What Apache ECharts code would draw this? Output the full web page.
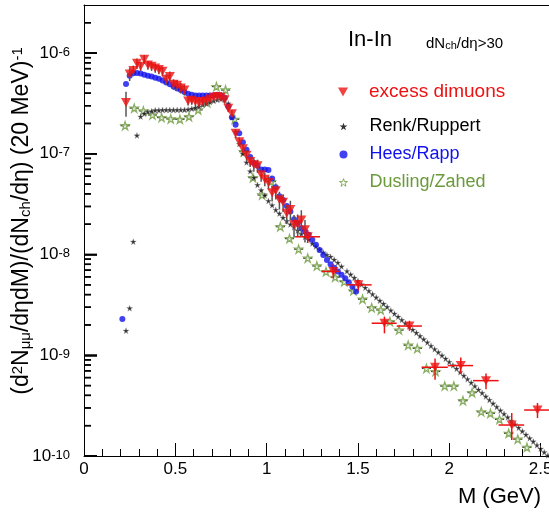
<!DOCTYPE html>
<html>
<head>
<meta charset="utf-8">
<script src="https://cdn.jsdelivr.net/npm/echarts@6/dist/echarts.min.js"></script>
<style>
html,body{margin:0;padding:0;background:#fff;}
#chart{width:549px;height:512px;}
</style>
</head>
<body>
<div id="chart"></div>
<script>
// ---------- DATA ----------
// excess dimuons, 20 MeV bins
const excessM = [0.23,0.25,0.27,0.29,0.31,0.33,0.35,0.37,0.39,0.41,0.43,0.45,0.47,0.49,0.51,0.53,0.55,0.57,0.59,0.61,0.63,0.65,0.67,0.69,0.71,0.73,0.75,0.77,0.79,0.81,0.83,0.85,0.87,0.89,0.91,0.93,0.95,0.97,0.99,1.01,1.03,1.05,1.07,1.09,1.11,1.13,1.15,1.17,1.19,1.21];
const excessY = [3.23e-7,6.2e-7,6.7e-7,7.9e-7,7.4e-7,8.7e-7,7.6e-7,7.4e-7,7.1e-7,6.85e-7,6.6e-7,5.5e-7,5.85e-7,4.9e-7,4.8e-7,4.5e-7,4.3e-7,3.35e-7,3.4e-7,3.3e-7,3.2e-7,3.3e-7,3.35e-7,3.5e-7,3.65e-7,3.7e-7,3.65e-7,3.43e-7,2.83e-7,2.5e-7,1.6e-7,1.32e-7,1.12e-7,9.7e-8,8.4e-8,7.8e-8,7.6e-8,6.2e-8,5.6e-8,5.2e-8,4.1e-8,4.3e-8,3.5e-8,3.3e-8,2.57e-8,2.8e-8,1.98e-8,2.0e-8,2.2e-8,1.76e-8];
const excessRelErr = [0.28,0.15,0.12,0.12,0.1,0.1,0.1,0.1,0.1,0.1,0.1,0.12,0.12,0.12,0.12,0.12,0.12,0.1,0.1,0.1,0.1,0.1,0.08,0.08,0.08,0.08,0.08,0.08,0.08,0.08,0.1,0.1,0.1,0.12,0.12,0.15,0.15,0.15,0.15,0.15,0.18,0.18,0.2,0.2,0.22,0.22,0.25,0.25,0.25,0.25];
// excess dimuons, wide bins
const wideM   = [1.225,1.365,1.502,1.645,1.782,1.922,2.063,2.201,2.342,2.483];
const wideMLo = [1.156,1.302,1.438,1.575,1.712,1.850,1.992,2.130,2.270,2.410];
const wideMHi = [1.292,1.402,1.575,1.712,1.850,1.992,2.130,2.270,2.410,2.550];
const wideY   = [1.5e-8,6.8e-9,5.0e-9,2.08e-9,1.95e-9,7.6e-10,7.9e-10,5.6e-10,2.03e-10,2.86e-10];
const wideYLo = [1.3e-8,5.8e-9,4.4e-9,1.65e-9,1.75e-9,5.7e-10,6.6e-10,4.6e-10,1.44e-10,2.38e-10];
const wideYHi = [1.75e-8,8.0e-9,5.6e-9,2.42e-9,2.2e-9,9.3e-10,9.5e-10,6.6e-10,2.67e-10,3.36e-10];

// Renk/Ruppert
const renkM = [0.23,0.25,0.27,0.29,0.31,0.33,0.35,0.37,0.39,0.41,0.43,0.45,0.47,0.49,0.51,0.53,0.55,0.57,0.59,0.61,0.63,0.65,0.67,0.69,0.71,0.73,0.75,0.77,0.79,0.81,0.83,0.85,0.87,0.89,0.91,0.93,0.95,0.97,0.99,1.01,1.03,1.05,1.07,1.09,1.11,1.13,1.15,1.17,1.19,1.21,1.23,1.25,1.27,1.29,1.31,1.33,1.35,1.37,1.39,1.41,
  1.44,1.46,1.48,1.50,1.52,1.54,1.56,1.58,1.60,1.62,1.64,1.66,1.68,1.70,1.72,1.74,1.76,1.78,1.80,1.82,1.84,1.86,1.88,1.90,1.92,1.94,1.96,1.98,2.00,2.02,2.04,2.06,2.08,2.10,2.12,2.14,2.16,2.18,2.20,2.22,2.24,2.26,2.28,2.30,2.32,2.34,2.36,2.38,2.40,2.42,2.44,2.46,2.48,2.50,2.52,2.54];
const renkY = [1.75e-9,2.93e-9,1.34e-8,1.52e-7,2.34e-7,2.5e-7,2.6e-7,2.65e-7,2.7e-7,2.7e-7,2.72e-7,2.72e-7,2.72e-7,2.72e-7,2.72e-7,2.73e-7,2.73e-7,2.75e-7,2.8e-7,2.87e-7,2.94e-7,3.05e-7,3.15e-7,3.25e-7,3.35e-7,3.43e-7,3.48e-7,3.43e-7,3.15e-7,2.3e-7,1.65e-7,1.25e-7,1.0e-7,8.2e-8,6.7e-8,5.8e-8,4.9e-8,4.35e-8,3.85e-8,3.4e-8,3.08e-8,2.77e-8,2.55e-8,2.32e-8,2.15e-8,1.99e-8,1.87e-8,1.73e-8,1.6e-8,1.49e-8,1.41e-8,1.29e-8,1.2e-8,1.12e-8,1.05e-8,9.9e-9,9.5e-9,8.9e-9,8.3e-9,7.6e-9,
  6.84e-9,6.34e-9,5.87e-9,5.45e-9,5.05e-9,4.68e-9,4.35e-9,4.04e-9,3.75e-9,3.48e-9,3.24e-9,3.01e-9,2.79e-9,2.59e-9,2.41e-9,2.24e-9,2.08e-9,1.93e-9,1.79e-9,1.67e-9,1.55e-9,1.44e-9,1.34e-9,1.24e-9,1.15e-9,1.07e-9,9.95e-10,9.25e-10,8.59e-10,7.94e-10,7.35e-10,6.79e-10,6.27e-10,5.79e-10,5.35e-10,4.94e-10,4.56e-10,4.22e-10,3.89e-10,3.60e-10,3.32e-10,3.07e-10,2.83e-10,2.62e-10,2.42e-10,2.23e-10,2.06e-10,1.91e-10,1.76e-10,1.63e-10,1.50e-10,1.39e-10,1.28e-10,1.18e-10,1.09e-10,1.01e-10];

// Hees/Rapp
const heesM = [0.21,0.23,0.25,0.27,0.29,0.31,0.33,0.35,0.37,0.39,0.41,0.43,0.45,0.47,0.49,0.51,0.53,0.55,0.57,0.59,0.61,0.63,0.65,0.67,0.69,0.71,0.73,0.75,0.77,0.79,0.81,0.83,0.85,0.87,0.89,0.91,0.93,0.95,0.97,0.99,1.01,1.03,1.05,1.07,1.09,1.11,1.13,1.15,1.17,1.19,1.21,1.23,1.25,1.27,1.29,1.31,1.33,1.35,1.37,1.39,1.41,1.43,1.45,1.47,1.49];
const heesY = [2.29e-9,4.94e-7,5.95e-7,6.3e-7,6.35e-7,6.25e-7,6.1e-7,5.95e-7,5.85e-7,5.7e-7,5.55e-7,5.35e-7,5.1e-7,4.9e-7,4.65e-7,4.45e-7,4.3e-7,4.1e-7,3.95e-7,3.85e-7,3.8e-7,3.78e-7,3.78e-7,3.78e-7,3.78e-7,3.8e-7,3.85e-7,3.8e-7,3.6e-7,2.94e-7,2.3e-7,1.94e-7,1.6e-7,1.3e-7,1.1e-7,9.3e-8,8.1e-8,7.6e-8,7.0e-8,7.0e-8,6.9e-8,5.7e-8,4.65e-8,3.8e-8,3.48e-8,3.03e-8,2.67e-8,2.24e-8,2.05e-8,1.82e-8,1.69e-8,1.57e-8,1.4e-8,1.25e-8,1.11e-8,9.9e-9,8.8e-9,8.0e-9,7.4e-9,6.8e-9,6.3e-9,5.8e-9,5.3e-9,4.8e-9,4.3e-9];

// Dusling/Zahed
const dusM = [0.225,0.275,0.325,0.375,0.425,0.475,0.525,0.575,0.625,0.675,0.725,0.775,0.825,0.875,0.925,0.975,1.025,1.075,1.125,1.175,1.225,1.275,1.325,1.375,1.425,1.475,1.525,1.575,1.625,1.675,1.725,1.775,1.825,1.875,1.925,1.975,2.025,2.075,2.125,2.175,2.225,2.275,2.325,2.375,2.425];
const dusY = [1.9e-7,2.84e-7,2.67e-7,2.43e-7,2.29e-7,2.22e-7,2.2e-7,2.34e-7,2.73e-7,3.22e-7,4.65e-7,4.3e-7,2.2e-7,1.05e-7,5.8e-8,3.9e-8,5.3e-8,1.89e-8,1.44e-8,1.13e-8,9.2e-9,7.7e-9,6.76e-9,5.95e-9,5.38e-9,4.37e-9,3.6e-9,2.97e-9,2.82e-9,2.16e-9,1.78e-9,1.26e-9,1.17e-9,7.4e-10,6.9e-10,4.95e-10,4.95e-10,3.54e-10,4.26e-10,2.75e-10,2.65e-10,2.31e-10,1.68e-10,1.47e-10,1.22e-10];
const dusHalfWidth = 0.025;

const xTickInterval = 0.5;
const yMin = 1e-10, yMax = 3e-6;
const xMin = 0, xMax = 2.546;
const yDecades = [-10, -9, -8, -7, -6];
const yMinorMantissas = [2, 3, 4, 5, 6, 7, 8, 9];

// ---------- STYLE ----------
const FONT = 'Liberation Sans, Arial, Helvetica, sans-serif';
const RED = '#ee1111', BLUE = '#1111ee', GREEN = '#6b9a3a', BLACK = '#000';
const TRI = 'path://M0,0L10,0L5,9Z';
const STAR = 'path://M5,0L6.2,3.6L10,3.6L6.9,5.8L8.1,9.5L5,7.2L1.9,9.5L3.1,5.8L0,3.6L3.8,3.6Z';

const zip = (a, b) => a.map((v, i) => [v, b[i]]);

const errData = [];
excessM.forEach((m, i) => {
  const y = excessY[i], e = excessRelErr[i];
  errData.push([m, y, m, m, y * (1 - e), y * (1 + e), 0]);
});
wideM.forEach((m, i) => {
  errData.push([m, wideY[i], wideMLo[i], wideMHi[i], wideYLo[i], wideYHi[i], 1]);
});

const dusBars = dusM.map((m, i) => [m, dusY[i]]);

// y ticks: [x, value, isMajor]
const yTicks = [];
yDecades.forEach(e => {
  const p = Math.pow(10, e);
  yTicks.push([xMin, p, 1]);
  yMinorMantissas.forEach(k => {
    const v = k * p;
    if (v < yMax * 0.999) yTicks.push([xMin, v, 0]);
  });
});

function lineEl(a, b, color, w) {
  return {type: 'line', shape: {x1: a[0], y1: a[1], x2: b[0], y2: b[1]}, style: {stroke: color, lineWidth: w}};
}

const textGraphics = [
  {
    type: 'text', x: 22, y: 221, rotation: Math.PI / 2,
    style: {
      text: '{n|(d}{p|2}{n|N}{u|μμ}{n|/dηdM)/(dN}{u|ch}{n|/dη) (20 MeV)}{p|-1}',
      textAlign: 'center', textVerticalAlign: 'middle', fill: '#000',
      rich: {
        n: {fontSize: 23, fontFamily: FONT, padding: [3, 0, 3, 0], lineHeight: 23, verticalAlign: 'middle'},
        p: {fontSize: 15, fontFamily: FONT, lineHeight: 15, verticalAlign: 'top'},
        u: {fontSize: 15, fontFamily: FONT, lineHeight: 15, verticalAlign: 'bottom'}
      }
    }
  },
  {
    type: 'text', x: 541, y: 497,
    style: {text: 'M (GeV)', font: '22px ' + FONT, fill: '#000', textAlign: 'right', textVerticalAlign: 'middle'}
  },
  {
    type: 'text', x: 348, y: 40,
    style: {text: 'In-In', font: '22px ' + FONT, fill: '#000', textAlign: 'left', textVerticalAlign: 'middle'}
  },
  {
    type: 'text', x: 426, y: 44,
    style: {
      text: '{n|dN}{u|ch}{n|/dη>30}', textAlign: 'left', textVerticalAlign: 'middle', fill: '#000',
      rich: {
        n: {fontSize: 15, fontFamily: FONT, padding: [2, 0, 2, 0], lineHeight: 15, verticalAlign: 'middle'},
        u: {fontSize: 11, fontFamily: FONT, lineHeight: 11, verticalAlign: 'bottom'}
      }
    }
  }
];

const chart = echarts.init(document.getElementById('chart'), null, {renderer: 'canvas'});
chart.setOption({
  animation: false,
  backgroundColor: '#fff',
  grid: {left: 84, right: 0, top: 5, bottom: 56, containLabel: false, outerBoundsMode: 'none'},
  xAxis: [{
    type: 'value', min: xMin, max: xMax, interval: xTickInterval,
    axisLine: {show: true, onZero: false, lineStyle: {color: '#000', width: 1}},
    axisTick: {show: true, inside: true, length: 13, lineStyle: {color: '#000', width: 1}},
    minorTick: {show: true, splitNumber: 5, length: 7, lineStyle: {color: '#000', width: 1}},
    splitLine: {show: false},
    axisLabel: {fontSize: 17, color: '#000', fontFamily: FONT, margin: 5, showMaxLabel: false,
      formatter: v => (Math.abs(v / xTickInterval - Math.round(v / xTickInterval)) < 1e-6 ? String(+v.toFixed(2)) : '')}
  }, {
    type: 'value', position: 'top', min: xMin, max: xMax,
    axisLine: {show: true, lineStyle: {color: '#000', width: 1}},
    axisTick: {show: false}, axisLabel: {show: false}, splitLine: {show: false}
  }],
  yAxis: {
    type: 'log', logBase: 10, min: yMin, max: yMax,
    axisLine: {show: true, onZero: false, lineStyle: {color: '#000', width: 1}},
    axisTick: {show: true, inside: true, length: 13, lineStyle: {color: '#000', width: 1.5}},
    splitLine: {show: false},
    axisLabel: {
      color: '#000', fontFamily: FONT, margin: 14, showMaxLabel: false,
      formatter: function (v) {
        const l = Math.log10(v), e = Math.round(l);
        if (Math.abs(l - e) > 1e-6) return '';
        return '{b|10}{s|' + e + '}';
      },
      rich: {
        b: {fontSize: 17, fontFamily: FONT, color: '#000', padding: [6, 0, 0, 0], verticalAlign: 'bottom', lineHeight: 17},
        s: {fontSize: 13, fontFamily: FONT, color: '#000', padding: [1, 0, 0, 0], verticalAlign: 'top', lineHeight: 13}
      }
    }
  },
  legend: [{
    orient: 'vertical', left: 338, top: 82, padding: 0, itemGap: 9,
    itemWidth: 10, itemHeight: 9, selectedMode: false,
    textStyle: {fontSize: 19, fontFamily: FONT, lineHeight: 20, padding: [0, 0, 0, 16]},
    data: [{name: 'excess dimuons', icon: TRI, itemStyle: {color: RED}, textStyle: {color: RED}}]
  }, {
    orient: 'vertical', left: 339, top: 117, padding: 0, itemGap: 9,
    itemWidth: 8, itemHeight: 8, selectedMode: false,
    textStyle: {fontSize: 18, fontFamily: FONT, lineHeight: 19, padding: [0, 0, 0, 17]},
    data: [
      {name: 'Renk/Ruppert', icon: STAR, itemStyle: {color: '#000', borderWidth: 0}, textStyle: {color: BLACK}},
      {name: 'Hees/Rapp', icon: 'circle', itemStyle: {color: BLUE}, textStyle: {color: BLUE}},
      {name: 'Dusling/Zahed', icon: STAR, itemStyle: {color: '#fff', borderColor: GREEN, borderWidth: 1}, textStyle: {color: GREEN}}
    ]
  }],
  series: [
    {
      name: 'yTicks', type: 'custom', clip: false, z: 10,
      data: yTicks,
      renderItem: (params, api) => {
        const p = api.coord([api.value(0), api.value(1)]);
        const len = api.value(2) ? 13 : 7;
        return {type: 'group', children: [{type: 'rect', shape: {x: p[0], y: p[1] - 0.75, width: len, height: 1.5}, style: {fill: '#000'}}]};
      }
    },
    {
      name: 'dusBars', type: 'custom', silent: true, clip: true, z: 2,
      data: dusBars,
      renderItem: (params, api) => {
        const m = api.value(0), y = api.value(1);
        const a = api.coord([m - dusHalfWidth, y]), b = api.coord([m + dusHalfWidth, y]);
        return {type: 'group', children: [lineEl(a, b, '#333', 1.2)]};
      }
    },
    {
      name: 'Dusling/Zahed', type: 'scatter', z: 3,
      data: zip(dusM, dusY), symbol: STAR, symbolSize: 8,
      itemStyle: {color: '#ffffff', borderColor: GREEN, borderWidth: 1.3}
    },
    {
      name: 'Renk/Ruppert', type: 'scatter', z: 4,
      data: zip(renkM, renkY), symbol: STAR, symbolSize: 6,
      itemStyle: {color: '#000', borderColor: '#999', borderWidth: 0.4}
    },
    {
      name: 'Hees/Rapp', type: 'scatter', z: 5,
      data: zip(heesM, heesY), symbol: 'circle', symbolSize: 6,
      itemStyle: {color: BLUE}
    },
    {
      name: 'excessErr', type: 'custom', silent: true, clip: true, z: 6,
      data: errData,
      renderItem: (params, api) => {
        const x = api.value(0), y = api.value(1), xl = api.value(2), xh = api.value(3),
              yl = api.value(4), yh = api.value(5), wide = api.value(6);
        const c = wide ? RED : '#555';
        const children = [lineEl(api.coord([x, yl]), api.coord([x, yh]), c, 1.5)];
        if (wide) children.push(lineEl(api.coord([xl, y]), api.coord([xh, y]), c, 1.5));
        return {type: 'group', children: children};
      }
    },
    {
      name: 'excess dimuons', type: 'scatter', z: 7,
      data: zip(excessM, excessY).concat(zip(wideM, wideY)), symbol: TRI, symbolSize: [10, 9],
      itemStyle: {color: RED}
    }
  ]
});

// y-axis ticks placed through the chart's own scales, drawn as thin filled bars
const tickGraphics = yTicks.map(t => {
  const p = chart.convertToPixel({xAxisIndex: 0, yAxisIndex: 0}, [t[0], t[1]]);
  const len = t[2] ? 13 : 7;
  return {type: 'rect', silent: true, z: 100, zlevel: 2,
    shape: {x: p[0], y: p[1] - 0.75, width: len, height: 1.5},
    style: {fill: '#000'}};
});
chart.setOption({graphic: {elements: textGraphics.concat(tickGraphics)}});
</script>
</body>
</html>
